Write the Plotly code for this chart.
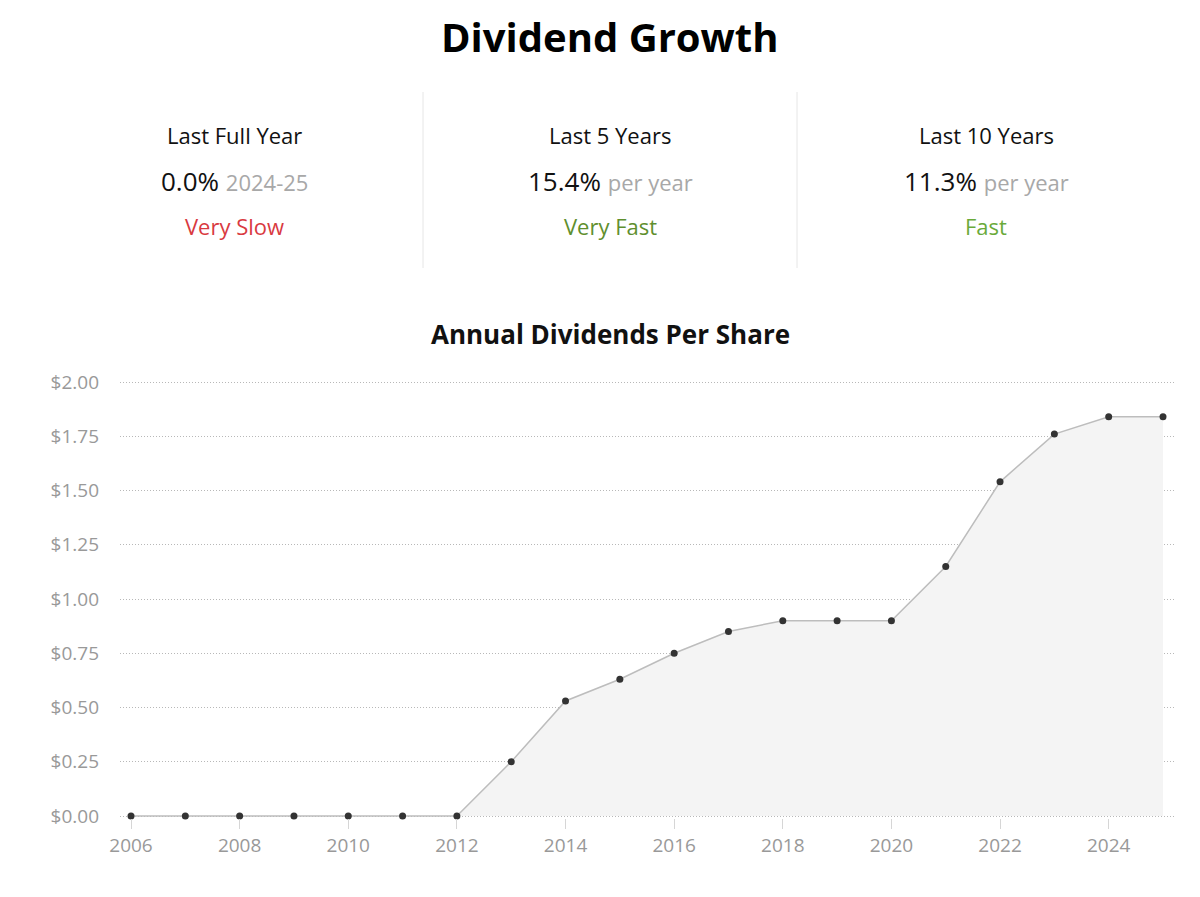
import plotly.graph_objects as go

years = list(range(2006, 2026))
dividends = [0, 0, 0, 0, 0, 0, 0, 0.25, 0.53, 0.63, 0.75, 0.85, 0.90, 0.90, 0.90,
             1.15, 1.54, 1.76, 1.84, 1.84]
tick_years = list(range(2006, 2026, 2))
y_ticks = [0, 0.25, 0.5, 0.75, 1.0, 1.25, 1.5, 1.75, 2.0]
y_tick_labels = ["$0.00", "$0.25", "$0.50", "$0.75", "$1.00", "$1.25", "$1.50", "$1.75", "$2.00"]

stat_labels = ["Last Full Year", "Last 5 Years", "Last 10 Years"]
stat_values = ["0.0%", "15.4%", "11.3%"]
stat_suffix = ["2024-25", "per year", "per year"]
stat_ratings = ["Very Slow", "Very Fast", "Fast"]
rating_colors = ["#d93a3f", "#5f8f2e", "#6aaa3a"]

FONT = "Open Sans"
OFF = 8  # page body margin
W, H = 1200 - 2 * OFF, 897 - 2 * OFF
PT, PB = 380 - OFF, 818 - OFF  # plot top/bottom (figure px)
PL, PR = 120 - OFF, 1175 - OFF
EPS = ((PB - PT) / 217 - 2) / 2

def py(p):  # page px -> paper y
    return (PB - (p - OFF)) / (PB - PT)

def px(p):  # page px -> paper x
    return ((p - OFF) - PL) / (PR - PL)

fig = go.Figure()
fig.add_trace(go.Scatter(
    x=years, y=dividends, mode="lines+markers",
    line=dict(color="#bdbdbd", width=1.5),
    marker=dict(color="#333333", size=7),
    fill="tozeroy", fillcolor="#f4f4f4",
    cliponaxis=False, hoverinfo="x+y",
))

ann = []
ann.append(dict(text="<b>Dividend Growth</b>", x=px(610), xref="paper", y=py(37), yref="paper",
                xanchor="center", showarrow=False,
                font=dict(family=FONT, size=40, color="#000"), yanchor="middle"))
ann.append(dict(text="<b>Annual Dividends Per Share</b>", x=px(610), xref="paper", y=py(334), yref="paper",
                xanchor="center", showarrow=False,
                font=dict(family=FONT, size=26, color="#111"), yanchor="middle"))
cols = [234, 610, 986]
for i, cx in enumerate(cols):
    ann.append(dict(text=stat_labels[i], x=px(cx), xref="paper", y=py(135), yref="paper",
                    xanchor="center", showarrow=False,
                    font=dict(family=FONT, size=22, color="#111"), yanchor="middle"))
    ann.append(dict(text=f"{stat_values[i]} <span style='font-size:22px;color:#a8a8a8'>{stat_suffix[i]}</span>",
                    x=px(cx), xref="paper", y=py(181), yref="paper",
                    xanchor="center", showarrow=False,
                    font=dict(family=FONT, size=26, color="#111"), yanchor="middle"))
    ann.append(dict(text=stat_ratings[i], x=px(cx), xref="paper", y=py(226), yref="paper",
                    xanchor="center", showarrow=False,
                    font=dict(family=FONT, size=22, color=rating_colors[i]), yanchor="middle"))

shapes = []
for dx in [423, 797]:
    shapes.append(dict(type="line", xref="paper", yref="paper", x0=px(dx), x1=px(dx),
                       y0=py(92), y1=py(268), line=dict(color="#e6e6e6", width=1)))

fig.update_layout(
    width=W, height=H,
    margin=dict(l=PL, r=W - PR, t=PT, b=H - PB),
    paper_bgcolor="white", plot_bgcolor="white",
    showlegend=False,
    annotations=ann, shapes=shapes,
    font=dict(family=FONT),
    xaxis=dict(range=[2006 - 11 / 54.32, 2025 + 12 / 54.32], tickvals=tick_years,
               ticks="outside", ticklen=10, tickcolor="#d6d6d6", tickwidth=1,
               tickfont=dict(family=FONT, size=19, color="#999"),
               showgrid=False, zeroline=False, showline=False, fixedrange=True),
    yaxis=dict(range=[-EPS, 2.0 + EPS], tickvals=y_ticks, ticktext=y_tick_labels,
               tickfont=dict(family=FONT, size=19, color="#999"),
               showgrid=True, gridcolor="#b8b8b8", griddash="1px,2px", gridwidth=1,
               zeroline=False, showline=False, ticks="", ticklabelstandoff=20,
               fixedrange=True),
)

fig.write_html("out.html")
